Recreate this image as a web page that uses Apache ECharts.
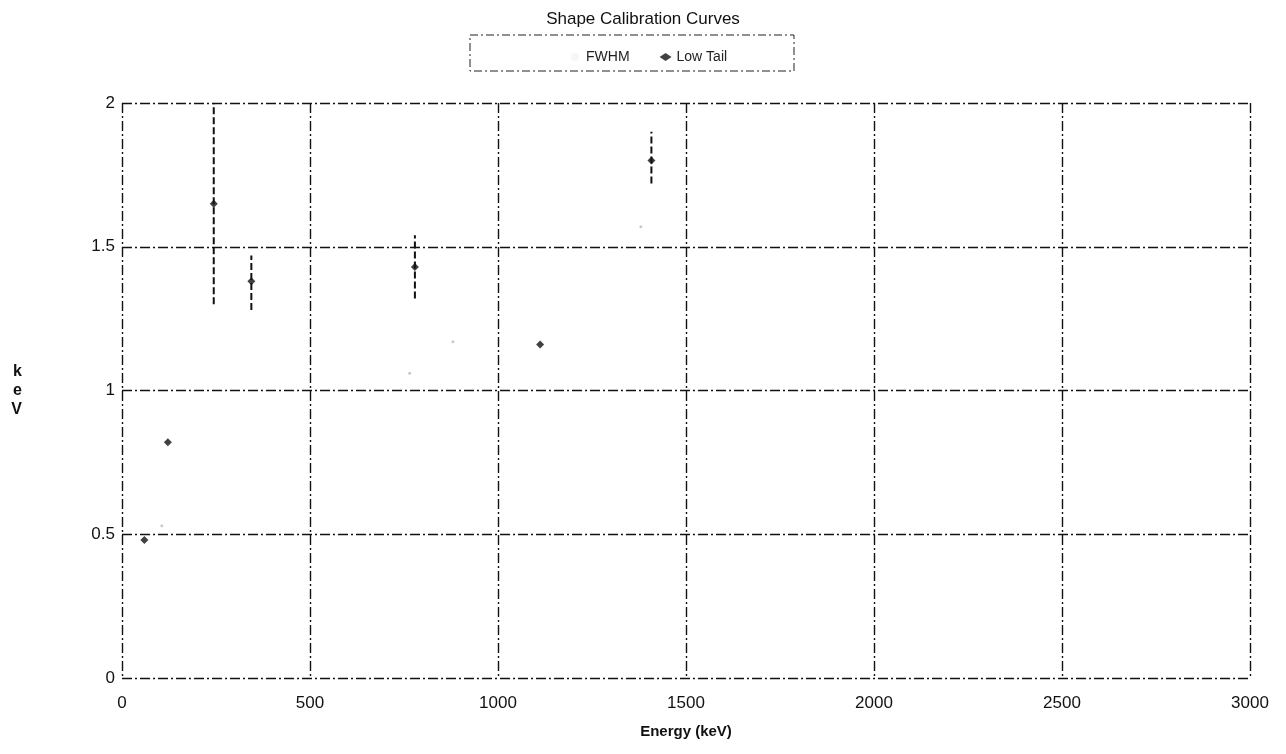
<!DOCTYPE html>
<html>
<head>
<meta charset="utf-8">
<title>Shape Calibration Curves</title>
<script src="https://cdn.jsdelivr.net/npm/echarts@6/dist/echarts.min.js"></script>
<style>
  html, body { margin: 0; padding: 0; background: #fff; }
  #chart { width: 1286px; height: 754px; }
</style>
</head>
<body>
<div id="chart"></div>
<script>
// peak energies (keV) and fitted shape values
const lowTailEnergy = [59.5, 122, 244, 344, 779, 1112, 1408]
const lowTailValue = [0.48, 0.82, 1.65, 1.38, 1.43, 1.16, 1.80]

// error bars on the low tail points
const errEnergy = [244, 344, 779, 1408]
const errLow = [1.30, 1.28, 1.32, 1.72]
const errHigh = [2.0, 1.47, 1.54, 1.90]

// FWHM points are barely visible in the scan
const fwhmEnergy = [106, 765, 880, 1380]
const fwhmValue = [0.53, 1.06, 1.17, 1.57]

const xTicks = [0, 500, 1000, 1500, 2000, 2500, 3000]
const yTicks = [0, 0.5, 1, 1.5, 2]

const font = 'Liberation Sans, Arial, sans-serif'
const chart = echarts.init(document.getElementById('chart'))

const gridLine = {
  show: true,
  lineStyle: { color: '#111', width: 1.4, type: [10, 3, 2, 3] }
}

chart.setOption({
  animation: false,
  title: {
    text: 'Shape Calibration Curves',
    left: 'center',
    top: 6,
    textStyle: { fontFamily: font, fontSize: 17, fontWeight: 'normal', color: '#111' }
  },
  legend: {
    top: 45,
    left: 566,
    itemWidth: 12,
    itemHeight: 8,
    itemGap: 30,
    textStyle: { fontFamily: font, fontSize: 14, color: '#222' },
    data: [
      { name: 'FWHM', icon: 'circle', itemStyle: { color: '#f4f4f4' } },
      { name: 'Low Tail', icon: 'diamond' }
    ]
  },
  graphic: [{
    type: 'rect',
    shape: { x: 470, y: 35, width: 324, height: 36 },
    style: { fill: 'none', stroke: '#222', lineWidth: 1, lineDash: [8, 3, 2, 3] }
  }],
  grid: { left: 122, right: 36, top: 103, bottom: 76 },
  xAxis: {
    type: 'value',
    min: xTicks[0],
    max: xTicks[xTicks.length - 1],
    interval: 500,
    name: 'Energy (keV)',
    nameLocation: 'middle',
    nameGap: 46,
    nameTextStyle: { fontFamily: font, fontSize: 15, fontWeight: 'bold', color: '#111' },
    axisLine: { show: false },
    axisTick: { show: false },
    axisLabel: { fontFamily: font, fontSize: 17, color: '#111', margin: 17, formatter: v => String(v) },
    splitLine: gridLine
  },
  yAxis: {
    type: 'value',
    min: yTicks[0],
    max: yTicks[yTicks.length - 1],
    interval: 0.5,
    name: 'k\ne\nV',
    nameLocation: 'middle',
    nameGap: 100,
    nameRotate: 0,
    nameTextStyle: { fontFamily: font, fontSize: 16, fontWeight: 'bold', color: '#111', lineHeight: 19 },
    axisLine: { show: false },
    axisTick: { show: false },
    axisLabel: { fontFamily: font, fontSize: 17, color: '#111', margin: 7, formatter: v => String(v) },
    splitLine: gridLine
  },
  series: [
    {
      name: 'FWHM',
      type: 'scatter',
      symbol: 'circle',
      symbolSize: 3,
      itemStyle: { color: '#bbbbbb' },
      data: fwhmEnergy.map((e, i) => [e, fwhmValue[i]])
    },
    {
      name: 'Low Tail',
      type: 'scatter',
      symbol: 'diamond',
      symbolSize: 8,
      itemStyle: { color: '#111' },
      z: 4,
      data: lowTailEnergy.map((e, i) => [e, lowTailValue[i]])
    },
    {
      name: 'Low Tail',
      type: 'custom',
      z: 3,
      renderItem: function (params, api) {
        const lo = api.coord([api.value(0), api.value(1)])
        const hi = api.coord([api.value(0), api.value(2)])
        return {
          type: 'line',
          shape: { x1: lo[0], y1: lo[1], x2: hi[0], y2: hi[1] },
          style: { stroke: '#111', lineWidth: 2, lineDash: [7, 3] }
        }
      },
      data: errEnergy.map((e, i) => [e, errLow[i], errHigh[i]])
    }
  ]
})

window.addEventListener('resize', () => chart.resize())
</script>
</body>
</html>
